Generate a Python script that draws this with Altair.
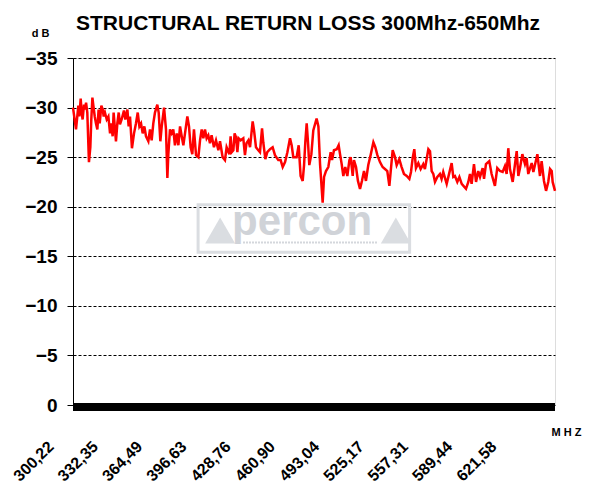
import altair as alt
import pandas as pd

# ---- data ----
freq_a = [300.22, 302.4, 304.1, 304.8, 305.8, 306.5, 307.2, 308.2, 308.9, 309.7,
          310.6, 311.8, 312.8, 313.5, 314.3, 315.0, 316.0, 316.9, 317.9, 318.8,
          319.6, 320.8, 321.8, 322.5, 323.4, 324.7, 325.9, 327.1, 327.8, 329.0,
          329.7, 330.7, 331.4, 332.4, 333.4, 334.3, 335.5, 337.2, 338.2, 339.7,
          340.6, 341.6, 343.0, 344.5, 345.9, 347.2, 348.4, 349.6, 350.8, 352.0,
          353.2, 354.9, 356.1, 357.3, 358.5, 359.7, 361.4, 362.4, 363.6, 364.6,
          366.3, 367.7, 368.7, 369.4, 370.6, 371.8, 373.0, 374.2, 375.5, 376.7,
          377.9, 379.1, 380.3, 381.5, 383.2, 384.4, 385.6, 386.8, 388.0, 389.5,
          391.2, 392.4, 393.6, 394.8, 396.0, 397.2, 398.4, 399.6, 400.8, 402.5,
          404.0, 405.7, 406.9, 408.8, 410.5, 411.7, 413.7, 414.6]
loss_a = [-30.0, -27.8, -30.2, -29.1, -30.9, -29.5, -28.8, -30.3, -29.8, -30.5,
          -29.5, -24.5, -26.0, -28.8, -31.0, -30.2, -29.1, -28.4, -27.8, -29.8,
          -28.4, -30.2, -29.8, -29.1, -29.5, -28.8, -29.1, -27.4, -28.4, -27.1,
          -29.5, -27.8, -26.6, -28.4, -29.5, -28.3, -28.8, -29.7, -28.8, -29.8,
          -28.1, -29.1, -25.9, -27.4, -28.4, -29.5, -28.1, -28.4, -27.4, -28.1,
          -27.1, -26.6, -27.8, -26.7, -28.4, -29.5, -30.3, -29.5, -26.6, -28.1,
          -30.0, -27.8, -22.9, -25.3, -27.8, -27.4, -27.8, -26.2, -27.4, -26.2,
          -28.1, -27.1, -26.2, -27.4, -29.1, -28.1, -26.0, -25.3, -27.8, -25.2,
          -25.0, -26.7, -27.8, -26.9, -27.8, -26.9, -27.2, -26.4, -27.2, -26.0,
          -26.7, -25.7, -26.6, -25.0, -24.7, -26.0, -25.3, -27.1]

freq_b = [415.4, 416.6, 417.5, 418.5, 419.5, 420.4, 421.9, 423.8, 425.0, 426.1,
          427.5, 428.7, 430.6, 431.6, 433.0, 434.7, 435.9, 437.4, 438.3, 439.8,
          441.2, 443.2, 445.1, 446.8, 449.2, 450.9, 452.4, 454.1, 455.8, 457.7,
          458.9, 460.1, 462.5, 464.0, 465.4, 466.9, 467.9, 468.8, 469.8, 470.8,
          471.7, 473.2, 474.6, 477.0, 478.3, 479.5, 481.4, 482.4, 483.8, 485.5,
          487.2, 488.2, 489.6, 491.6, 493.0, 494.0, 495.2, 496.4, 497.8, 499.3,
          500.8, 501.7, 503.2, 504.1, 505.6, 507.0, 508.5, 509.9, 511.4, 512.8,
          514.5, 516.2, 518.2, 519.6, 521.1, 523.0, 524.9, 526.6, 528.3, 529.8,
          532.2, 533.9, 535.1, 537.0, 538.7, 540.4, 542.4]
loss_b = [-25.5, -25.7, -27.4, -27.0, -25.5, -26.9, -26.7, -26.9, -25.2, -26.4,
          -26.7, -26.0, -28.6, -27.7, -26.0, -25.7, -25.5, -27.9, -26.5, -24.8,
          -25.5, -25.8, -26.0, -25.2, -24.7, -24.7, -24.0, -24.5, -25.5, -26.9,
          -26.2, -25.0, -25.0, -26.2, -23.1, -22.6, -24.2, -26.5, -28.4, -26.4,
          -24.2, -25.3, -27.7, -28.9, -28.1, -24.3, -20.4, -23.0, -23.6, -24.0,
          -25.5, -24.7, -25.7, -25.8, -26.2, -25.3, -24.3, -23.1, -24.0, -23.1,
          -24.7, -25.0, -23.1, -24.7, -24.0, -22.6, -21.8, -22.6, -23.6, -22.6,
          -24.2, -25.2, -26.5, -26.0, -25.2, -24.5, -24.0, -23.8, -23.6, -22.1,
          -25.7, -25.0, -24.2, -24.8, -24.0, -23.3, -23.1]

freq_c = [544.3, 545.5, 546.7, 547.9, 549.1, 550.8, 552.5, 554.4, 555.6, 558.1,
          559.3, 560.5, 561.7, 562.9, 564.6, 566.5, 567.7, 568.9, 571.4, 575.0,
          576.2, 577.4, 579.1, 580.6, 582.3, 585.4, 587.1, 588.3, 589.5, 591.2,
          592.7, 594.3, 595.6, 597.5, 598.5, 599.9, 602.3, 604.0, 606.4, 608.1,
          610.1, 612.0, 613.7, 614.9, 616.1, 617.3, 619.3, 622.2, 623.4, 624.6,
          626.3, 628.2, 629.4, 630.6, 633.1, 634.3, 637.2, 639.1, 640.3, 642.0,
          643.5, 645.1, 646.4, 647.6, 648.3, 650.0]
loss_c = [-22.8, -23.5, -24.9, -25.8, -23.9, -24.4, -23.8, -24.3, -23.8, -25.8,
          -25.6, -23.6, -23.3, -22.5, -23.0, -23.3, -22.8, -23.5, -22.3, -24.4,
          -23.0, -23.1, -22.5, -23.0, -22.3, -21.8, -22.5, -23.3, -22.3, -24.3,
          -22.5, -23.6, -23.0, -23.9, -22.8, -24.3, -24.6, -23.3, -22.1, -23.9,
          -23.6, -23.5, -24.1, -23.3, -25.9, -23.8, -22.5, -25.6, -23.1, -23.9,
          -25.3, -24.3, -24.9, -23.3, -24.4, -23.5, -25.3, -23.1, -24.6, -22.6,
          -21.6, -22.5, -23.8, -23.6, -22.5, -21.6]

x_ticks = [300.22, 332.35, 364.49, 396.63, 428.76, 460.90, 493.04, 525.17,
           557.31, 589.44, 621.58]
y_ticks = [-35, -30, -25, -20, -15, -10, -5, 0]

title_text = "STRUCTURAL RETURN LOSS 300Mhz-650Mhz"

freq = freq_a + freq_b + freq_c
loss = loss_a + loss_b + loss_c
df = pd.DataFrame(list(zip(freq, loss)), columns=["f", "v"])

# watermark logo (in data units)
logo_box = pd.DataFrame({"f": [391.0], "f2": [544.5], "v": [-20.2], "v2": [-15.4]})
logo_word = pd.DataFrame({"f": [466.5], "v": [-17.1], "t": ["percon"]})
logo_tri = pd.DataFrame({"f": [407.0, 534.5], "v": [-17.6, -17.6]})
logo_line = pd.DataFrame({"f": [423.6], "f2": [521.6], "v": [-16.4]})
zero_df = pd.DataFrame({"v": [0]})

FONT = "Liberation Sans"

xscale = alt.Scale(domain=[300.22, 650], nice=False, zero=False)
yscale = alt.Scale(domain=[-35, 0], reverse=True, nice=False, zero=False)

xaxis = alt.Axis(
    values=x_ticks,
    labelExpr="replace(format(datum.value, '.2f'), '.', ',')",
    labelAngle=315, labelAlign="right", labelBaseline="top",
    labelOffset=-28, labelPadding=33, labelFontSize=16, labelFont=FONT,
    labelFontWeight="bold", labelColor="black", labelOverlap=False,
    labelFlush=False, labelBound=False,
    ticks=False, domain=False, grid=False,
    title="M H Z", titleX=478, titleY=30, titleAlign="left",
    titleBaseline="alphabetic", titleAngle=0, titleFontSize=11,
    titleFont=FONT, titleFontWeight="bold", titleColor="black",
)
yaxis = alt.Axis(
    values=y_ticks, labelFontSize=19, labelFont=FONT, labelFontWeight="bold",
    labelColor="black", labelPadding=10, labelOverlap=False, labelFlush=False,
    ticks=True, tickSize=6, tickColor="black", tickWidth=1,
    domain=True, domainColor="black", domainWidth=1,
    grid=True, gridColor="black", gridDash=[3, 2], gridWidth=1, gridOpacity=1,
    title="d B", titleAngle=0, titleX=-33, titleY=-22, titleAlign="center",
    titleBaseline="alphabetic", titleFontSize=11, titleFont=FONT,
    titleFontWeight="bold", titleColor="black",
)


def X(field):
    return alt.X(f"{field}:Q", scale=xscale, axis=xaxis)


def Y(field):
    return alt.Y(f"{field}:Q", scale=yscale, axis=yaxis)


box = alt.Chart(logo_box).mark_rect(
    fill="white", fillOpacity=0, stroke="#dadde1", strokeWidth=3
).encode(x=X("f"), x2="f2", y=Y("v"), y2="v2")

tri = alt.Chart(logo_tri).mark_point(
    shape="triangle-up", filled=True, size=900, color="#dadde1", opacity=1
).encode(x=X("f"), y=Y("v"))

uline = alt.Chart(logo_line).mark_rule(
    color="#d4d7dc", strokeWidth=2, strokeDash=[2, 1]
).encode(x=X("f"), x2="f2", y=Y("v"))

word = alt.Chart(logo_word).mark_text(
    fontSize=42, font=FONT, fontWeight="bold", color="#d0d3d8",
    align="center", baseline="alphabetic"
).encode(x=X("f"), y=Y("v"), text="t:N")

line = alt.Chart(df).mark_line(color="#ff0000", strokeWidth=2.5).encode(
    x=X("f"), y=Y("v")
)

band = alt.Chart(zero_df).mark_rule(color="black", strokeWidth=8, yOffset=2).encode(
    y=Y("v")
)

chart = alt.layer(box, tri, uline, word, line, band).properties(
    width=482, height=347,
    padding={"left": 65, "top": 50, "right": 35, "bottom": 86},
    autosize=alt.AutoSizeParams(type="none"),
    title=alt.TitleParams(
        title_text, fontSize=21, font=FONT, fontWeight="bold", color="black",
        anchor="middle", dx=-6, dy=24, offset=0, baseline="alphabetic", frame="group",
    ),
).configure_view(stroke="#ff0000", strokeWidth=2).configure(background="white")

chart.save("out.html", embed_options={"renderer": "svg", "actions": False})
